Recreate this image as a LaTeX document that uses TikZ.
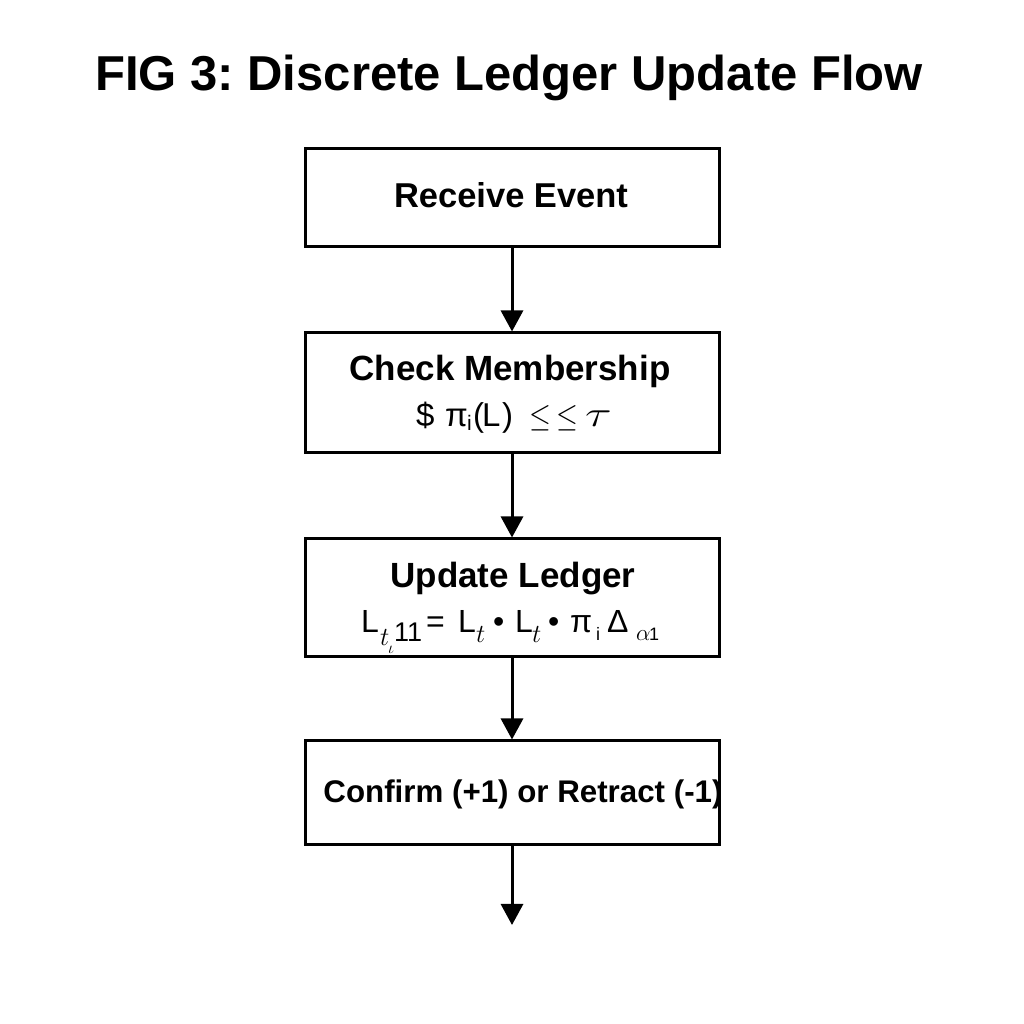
\documentclass[tikz,border=0pt]{standalone}
\usepackage{fix-cm}
\usepackage{graphicx}
\usepackage{fontspec}
\setmainfont{Liberation Sans}
\frenchspacing
\usetikzlibrary{arrows.meta}
\tikzset{
  box/.style={draw=black, line width=3pt, minimum width=414pt, inner sep=0pt},
  lbl/.style={anchor=base, inner sep=0pt, font=\fontsize{35}{38}\selectfont\bfseries},
  frm/.style={anchor=base west, inner sep=0pt},
  flow/.style={line width=3pt, -{Triangle[width=22pt,length=21pt]}}
}
% place #3 at horizontal offset #1, lowered by #2
\newcommand{\gl}[3]{\makebox[0pt][l]{\hspace*{#1}\raisebox{-#2}{#3}}}
\newcommand{\fs}[1]{\fontsize{#1}{#1}\selectfont}
\begin{document}
\begin{tikzpicture}[x=1pt,y=1pt]
\useasboundingbox (0,0) rectangle (1024,1024);
\fill[white] (0,0) rectangle (1024,1024);
\node[anchor=base, inner sep=0pt, font=\fontsize{49}{52}\selectfont\bfseries] (title) at (509,933) {FIG 3: Discrete Ledger Update Flow};
\node[box, minimum height=98pt] (b1) at (512,826) {};
\node[box, minimum height=120pt] (b2) at (512,631) {};
\node[box, minimum height=118pt] (b3) at (512,426) {};
\node[box, minimum height=104pt] (b4) at (512,231) {};
\coordinate (end) at (512,99);
\node[lbl, font=\fontsize{34.5}{37}\selectfont\bfseries] (t1) at (511,816) {Receive Event};
\node[lbl] (t2) at (510,643) {Check Membership};
\node[frm] (f2) at (416,597) {\fs{33}%
  \gl{0pt}{0pt}{\$}%
  \gl{29pt}{0pt}{π}%
  \gl{51pt}{4pt}{\fs{21}i}%
  \gl{57pt}{0pt}{(}%
  \gl{66pt}{0pt}{L}%
  \gl{86pt}{0pt}{)}%
  \gl{113pt}{0pt}{\scalebox{0.85}[1]{$\leq$}}%
  \gl{140pt}{0pt}{\scalebox{0.85}[1]{$\leq$}}%
  \gl{169pt}{0pt}{\scalebox{1.5}[1.1]{$\tau$}}%
  \hspace*{192pt}};
\node[lbl] (t3) at (513,436) {Update Ledger};
\node[frm] (f3) at (361,391) {\fs{32}%
  \gl{0pt}{0pt}{L}%
  \gl{19pt}{13pt}{\fs{26}$t$}%
  \gl{27pt}{21pt}{\fs{17}$\iota$}%
  \gl{33pt}{9pt}{\fs{27}11}%
  \gl{65pt}{0pt}{=}%
  \gl{97pt}{0pt}{L}%
  \gl{115pt}{10pt}{\fs{26}$t$}%
  \gl{132pt}{0pt}{•}%
  \gl{154pt}{0pt}{L}%
  \gl{171pt}{10pt}{\fs{26}$t$}%
  \gl{187pt}{0pt}{•}%
  \gl{209pt}{0pt}{π}%
  \gl{235pt}{8pt}{\fs{18}i}%
  \gl{246pt}{0pt}{Δ}%
  \gl{275pt}{8pt}{\fs{23}$\alpha$}%
  \gl{288pt}{8pt}{\fs{18}1}%
  \hspace*{296pt}};
\node[lbl, font=\fontsize{31.3}{34}\selectfont\bfseries] (t4) at (523,221) {Confirm (+1) or Retract (-1)};
\draw[flow] (b1.south) -- (b2.north);
\draw[flow] (b2.south) -- (b3.north);
\draw[flow] (b3.south) -- (b4.north);
\draw[flow] (b4.south) -- (end);
\end{tikzpicture}
\end{document}
